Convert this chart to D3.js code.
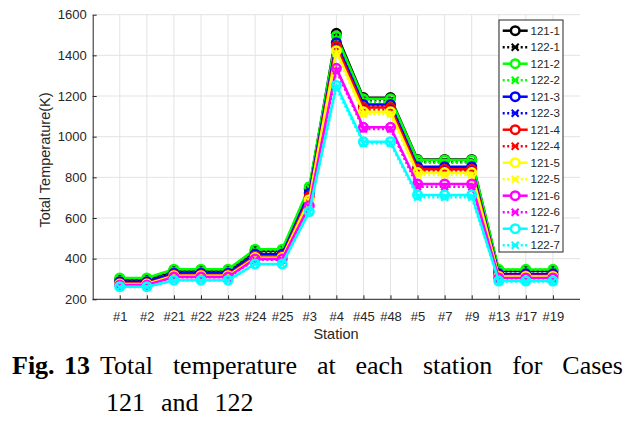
<!DOCTYPE html>
<html>
<head>
<meta charset="utf-8">
<script src="https://cdn.jsdelivr.net/npm/d3@7"></script>
<style>
  body { margin: 0; background: #fff; }
  text { font-family: "Liberation Sans", Arial, sans-serif; fill: #262626; }
  .caption text { font-family: "Liberation Serif", "Times New Roman", serif; fill: #000; }
</style>
</head>
<body>
<div id="chart"></div>
<script>
// data
const stations = ["#1", "#2", "#21", "#22", "#23", "#24", "#25", "#3", "#4", "#45", "#48", "#5", "#7", "#9", "#13", "#17", "#19"];
const yTicks = [200, 400, 600, 800, 1000, 1200, 1400, 1600];

const t121_1 = [298, 298, 342, 342, 342, 438, 438, 742, 1508, 1192, 1192, 888, 888, 888, 340, 340, 340];
const t122_1 = [296, 296, 340, 340, 340, 435, 435, 738, 1490, 1178, 1178, 875, 875, 875, 338, 338, 338];
const t121_2 = [305, 305, 348, 348, 348, 446, 446, 754, 1495, 1186, 1186, 885, 885, 885, 347, 347, 347];
const t122_2 = [303, 303, 346, 346, 346, 443, 443, 750, 1480, 1172, 1172, 872, 872, 872, 345, 345, 345];
const t121_3 = [286, 286, 328, 328, 328, 422, 422, 722, 1462, 1158, 1158, 852, 852, 852, 325, 325, 325];
const t122_3 = [284, 284, 326, 326, 326, 419, 419, 718, 1450, 1148, 1148, 845, 845, 845, 323, 323, 323];
const t121_4 = [278, 278, 320, 320, 320, 412, 412, 705, 1446, 1143, 1143, 840, 840, 840, 316, 316, 316];
const t122_4 = [276, 276, 318, 318, 318, 409, 409, 700, 1435, 1132, 1132, 832, 832, 832, 314, 314, 314];
const t121_5 = [275, 275, 316, 316, 316, 405, 405, 690, 1423, 1122, 1122, 823, 823, 823, 312, 312, 312];
const t122_5 = [273, 273, 314, 314, 314, 402, 402, 685, 1410, 1110, 1110, 811, 811, 811, 310, 310, 310];
const t121_6 = [270, 270, 310, 310, 310, 398, 398, 660, 1336, 1046, 1046, 767, 767, 767, 305, 305, 305];
const t122_6 = [268, 268, 308, 308, 308, 395, 395, 655, 1325, 1038, 1038, 754, 754, 754, 303, 303, 303];
const t121_7 = [262, 262, 294, 294, 294, 374, 374, 632, 1252, 975, 975, 713, 713, 713, 290, 290, 290];
const t122_7 = [260, 260, 292, 292, 292, 372, 372, 628, 1240, 968, 968, 702, 702, 702, 288, 288, 288];

const caseNames = ["121-1", "122-1", "121-2", "122-2", "121-3", "122-3", "121-4", "122-4",
  "121-5", "122-5", "121-6", "122-6", "121-7", "122-7"];
const caseValues = [t121_1, t122_1, t121_2, t122_2, t121_3, t122_3, t121_4, t122_4,
  t121_5, t122_5, t121_6, t122_6, t121_7, t122_7];

// colors per case number (1..7)
const colors = ["#000000", "#00ff00", "#0000ff", "#ff0000", "#ffff00", "#ff00ff", "#00ffff"];

const series = caseNames.map((name, i) => ({
  name: name,
  values: caseValues[i],
  color: colors[Math.floor(i / 2)],
  dotted: name.startsWith("122")
}));

////////////////////////////  svg  ////////////////////////////
const width = 644, height = 421;
const svg = d3.select("#chart").append("svg")
  .attr("width", width).attr("height", height);

const plot = { left: 92.7, right: 580, top: 14.7, bottom: 299.3 };

const x = d3.scalePoint().domain(stations).range([plot.left, plot.right]).padding(1);
const y = d3.scaleLinear().domain([200, 1600]).range([plot.bottom, plot.top]);

// grid
svg.append("g").selectAll("line.gx").data(stations).enter().append("line")
  .attr("x1", d => x(d)).attr("x2", d => x(d))
  .attr("y1", plot.top).attr("y2", plot.bottom)
  .attr("stroke", "#e3e3e3").attr("stroke-width", 1);
svg.append("g").selectAll("line.gy").data(yTicks).enter().append("line")
  .attr("x1", plot.left).attr("x2", plot.right)
  .attr("y1", d => y(d)).attr("y2", d => y(d))
  .attr("stroke", "#e3e3e3").attr("stroke-width", 1);

// axes
const xAxis = svg.append("g")
  .attr("transform", `translate(0,${plot.bottom})`)
  .call(d3.axisBottom(x).tickSizeInner(-4).tickSizeOuter(0).tickPadding(12));
const yAxis = svg.append("g")
  .attr("transform", `translate(${plot.left},0)`)
  .call(d3.axisLeft(y).tickValues(yTicks).tickFormat(d3.format("d"))
    .tickSizeInner(-4).tickSizeOuter(0).tickPadding(6));
[xAxis, yAxis].forEach(a => {
  a.select(".domain").attr("stroke", "#262626");
  a.selectAll(".tick line").attr("stroke", "#262626");
  a.selectAll(".tick text").attr("fill", "#262626")
    .style("font-family", "Liberation Sans, Arial, sans-serif").style("font-size", "13px");
});
xAxis.select(".domain").attr("d", `M${plot.left},0H${plot.right}`);

// axis titles
svg.append("text")
  .attr("x", 336).attr("y", 339)
  .attr("text-anchor", "middle")
  .style("font-size", "14.5px")
  .text("Station");
svg.append("text")
  .attr("transform", `translate(50,160) rotate(-90)`)
  .attr("text-anchor", "middle")
  .style("font-size", "14.5px")
  .text("Total Temperature(K)");

// lines
const line = d3.line()
  .x((d, i) => x(stations[i]))
  .y(d => y(d));

const crossPath = "M-3.5,-3.5L3.5,3.5M-3.5,3.5L3.5,-3.5";

const drawMarker = (sel, s) => {
  if (s.dotted) {
    sel.append("path").attr("d", crossPath)
      .attr("fill", "none").attr("stroke", s.color).attr("stroke-width", 2);
  } else {
    sel.append("circle").attr("r", 4.3)
      .attr("fill", "none").attr("stroke", s.color).attr("stroke-width", 2.5);
  }
};

series.forEach(s => {
  const g = svg.append("g");
  g.append("path")
    .datum(s.values)
    .attr("d", line)
    .attr("fill", "none")
    .attr("stroke", s.color)
    .attr("stroke-width", 2.5)
    .attr("stroke-dasharray", s.dotted ? "2,2.5" : null);
  g.selectAll("g.m").data(s.values).enter().append("g")
    .attr("transform", (d, i) => `translate(${x(stations[i])},${y(d)})`)
    .each(function () { drawMarker(d3.select(this), s); });
});

// legend
const legend = svg.append("g");
const lg = { x: 499, y: 20, w: 64, h: 232, row: 16.5, first: 30.7 };
legend.append("rect")
  .attr("x", lg.x).attr("y", lg.y).attr("width", lg.w).attr("height", lg.h)
  .attr("fill", "#fff").attr("stroke", "#262626").attr("stroke-width", 1);
const rows = legend.selectAll("g.row").data(series).enter().append("g")
  .attr("transform", (d, i) => `translate(${lg.x},${lg.first + i * lg.row})`);
rows.append("line")
  .attr("x1", 3.7).attr("x2", 28.7).attr("y1", 0).attr("y2", 0)
  .attr("stroke", d => d.color).attr("stroke-width", 2.5)
  .attr("stroke-dasharray", d => d.dotted ? "2,2.5" : null);
rows.each(function (d) {
  const m = d3.select(this).append("g").attr("transform", "translate(16.2,0)");
  drawMarker(m, d);
  if (!d.dotted) m.select("circle").attr("fill", "#fff");
});
rows.append("text")
  .attr("x", 31.5).attr("y", 0).attr("dy", "0.36em")
  .style("font-size", "11.5px")
  .text(d => d.name);

// caption
const cap = svg.append("g").attr("class", "caption");
cap.append("text")
  .attr("x", 12).attr("y", 374)
  .style("font-size", "26px").style("font-weight", "bold")
  .attr("word-spacing", "3px")
  .text("Fig. 13");

// justify words between two x positions
const justify = (words, x0, x1, yy, gap) => {
  const t = cap.selectAll(null).data(words).enter().append("text")
    .attr("y", yy).style("font-size", "26px").text(d => d);
  const widths = t.nodes().map(n => n.getComputedTextLength());
  const total = d3.sum(widths);
  const g = gap != null ? gap : (x1 - x0 - total) / (words.length - 1);
  let cx = x0;
  t.attr("x", (d, i) => { const v = cx; cx += widths[i] + g; return v; });
};
justify(["Total", "temperature", "at", "each", "station", "for", "Cases"], 100, 623, 374);
justify(["121", "and", "122"], 106, null, 411, 16);
</script>
</body>
</html>
